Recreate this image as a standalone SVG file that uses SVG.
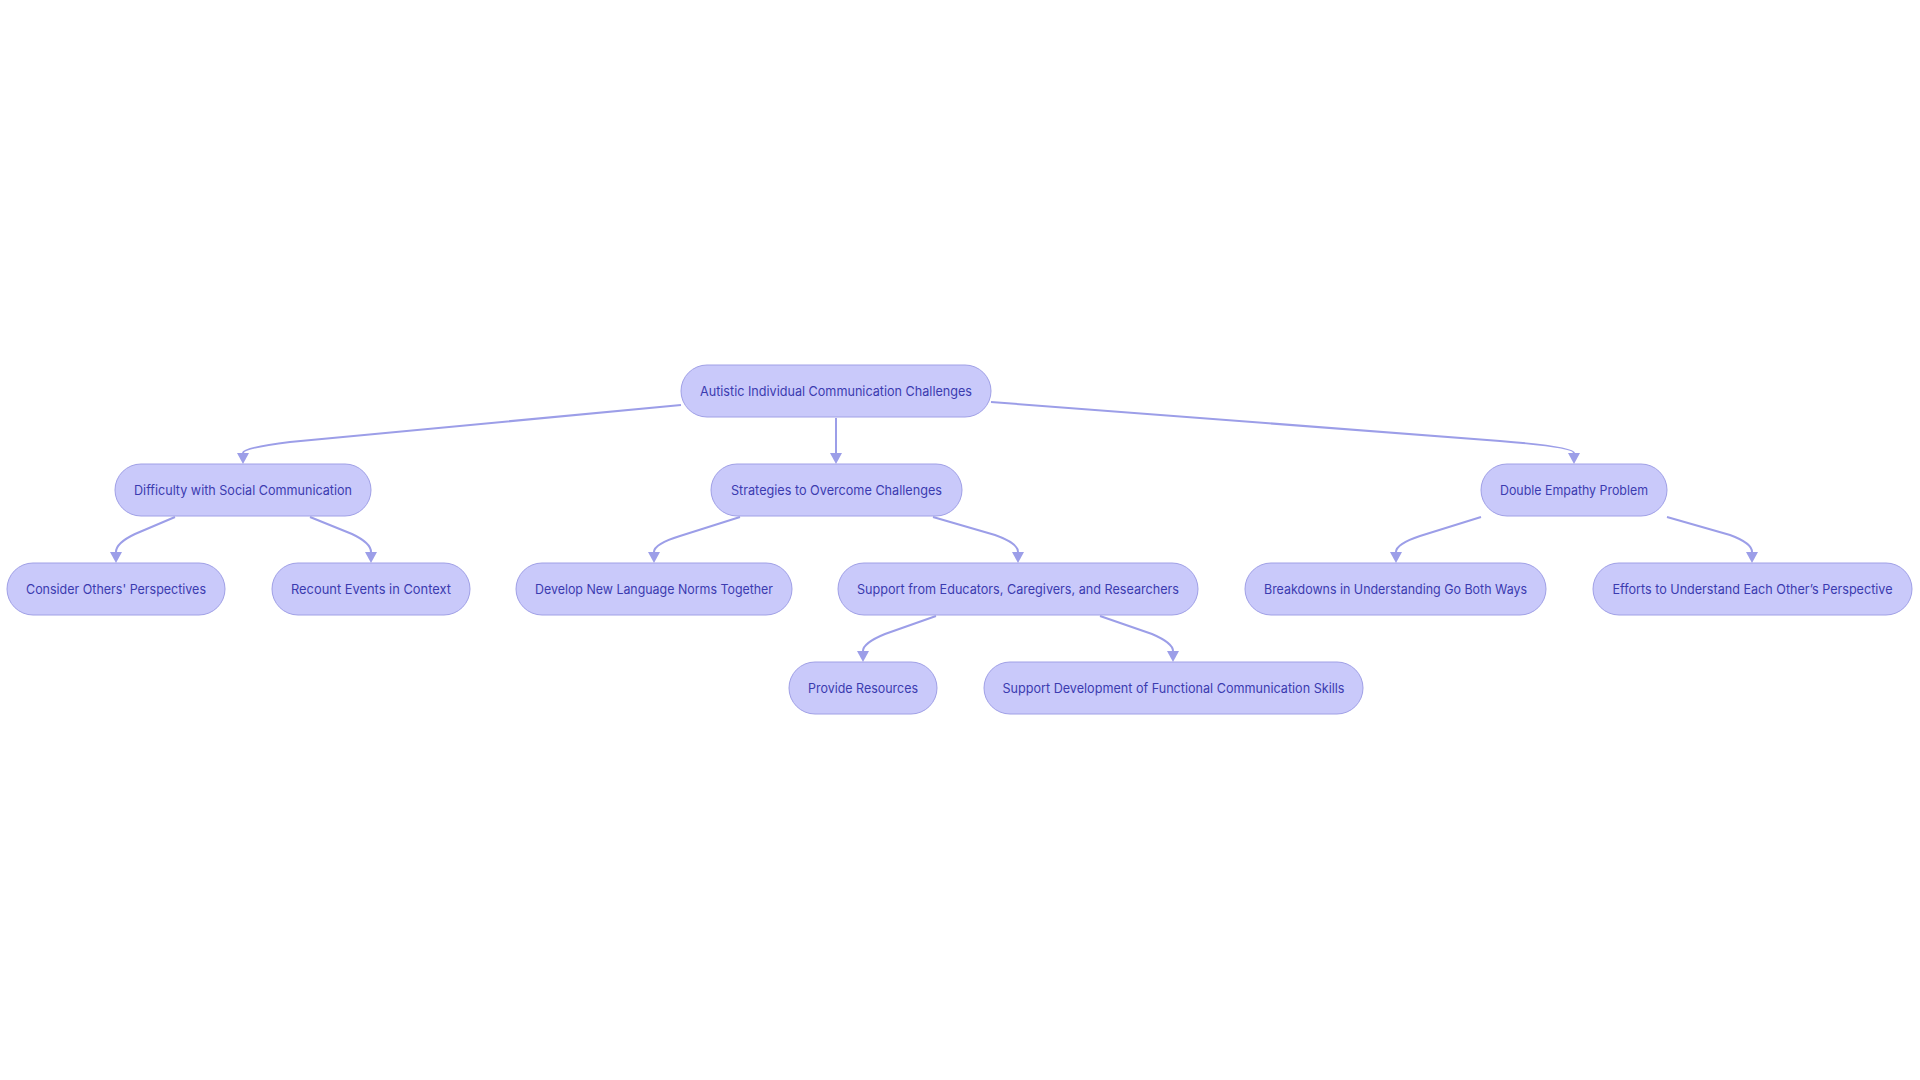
<svg xmlns="http://www.w3.org/2000/svg" width="1920" height="1080" viewBox="0 0 1920 1080">
<style>
.node rect{fill:#c9c9fa;stroke:#a0a0e6;stroke-width:1}
.node text{font-family:Inter,"Noto Sans","Liberation Sans",sans-serif;font-size:13px;fill:#3b3bb0;text-anchor:middle;dominant-baseline:central}
.edge{fill:none;stroke:#9c9ee8;stroke-width:2;marker-end:url(#arr)}
</style>
<defs>
<marker id="arr" markerUnits="userSpaceOnUse" markerWidth="11" markerHeight="12" viewBox="0 0 11 12" refX="0" refY="6" orient="auto">
<path d="M0,0 L11,6 L0,12 Z" fill="#9c9ee8"/>
</marker>
</defs>
<rect width="1920" height="1080" fill="#ffffff"/>
<g id="connectors">
<path class="edge" d="M681,405 L290,442 Q243,448 243,453"/>
<path class="edge" d="M836,418 L836,453"/>
<path class="edge" d="M991,402 L1500,441 Q1574,447 1574,453"/>
<path class="edge" d="M175,517 L135,534 Q116,543 116,552"/>
<path class="edge" d="M310,517 L352,534 Q371,543 371,552"/>
<path class="edge" d="M740,517 L680,536 Q654,544 654,552"/>
<path class="edge" d="M933,517 L995,535 Q1018,543 1018,552"/>
<path class="edge" d="M1481,517 L1420,536 Q1396,544 1396,552"/>
<path class="edge" d="M1667,517 L1730,535 Q1752,543 1752,552"/>
<path class="edge" d="M936,616 L885,634 Q863,643 863,651"/>
<path class="edge" d="M1100,616 L1152,634 Q1173,643 1173,651"/>
</g>
<g id="n_root" class="node"><rect x="681" y="365" width="310" height="52" rx="26"/><text x="836" y="391" textLength="272" lengthAdjust="spacingAndGlyphs">Autistic Individual Communication Challenges</text></g>
<g id="n_difficulty" class="node"><rect x="115" y="464" width="256" height="52" rx="26"/><text x="243" y="490" textLength="218" lengthAdjust="spacingAndGlyphs">Difficulty with Social Communication</text></g>
<g id="n_strategies" class="node"><rect x="711" y="464" width="251" height="52" rx="26"/><text x="836.5" y="490" textLength="211" lengthAdjust="spacingAndGlyphs">Strategies to Overcome Challenges</text></g>
<g id="n_double" class="node"><rect x="1481" y="464" width="186" height="52" rx="26"/><text x="1574" y="490" textLength="148" lengthAdjust="spacingAndGlyphs">Double Empathy Problem</text></g>
<g id="n_consider" class="node"><rect x="7" y="563" width="218" height="52" rx="26"/><text x="116" y="589" textLength="180" lengthAdjust="spacingAndGlyphs">Consider Others' Perspectives</text></g>
<g id="n_recount" class="node"><rect x="272" y="563" width="198" height="52" rx="26"/><text x="371" y="589" textLength="160" lengthAdjust="spacingAndGlyphs">Recount Events in Context</text></g>
<g id="n_develop" class="node"><rect x="516" y="563" width="276" height="52" rx="26"/><text x="654" y="589" textLength="238" lengthAdjust="spacingAndGlyphs">Develop New Language Norms Together</text></g>
<g id="n_support" class="node"><rect x="838" y="563" width="360" height="52" rx="26"/><text x="1018" y="589" textLength="322" lengthAdjust="spacingAndGlyphs">Support from Educators, Caregivers, and Researchers</text></g>
<g id="n_breakdowns" class="node"><rect x="1245" y="563" width="301" height="52" rx="26"/><text x="1395.5" y="589" textLength="263" lengthAdjust="spacingAndGlyphs">Breakdowns in Understanding Go Both Ways</text></g>
<g id="n_efforts" class="node"><rect x="1593" y="563" width="319" height="52" rx="26"/><text x="1752.5" y="589" textLength="280" lengthAdjust="spacingAndGlyphs">Efforts to Understand Each Other’s Perspective</text></g>
<g id="n_provide" class="node"><rect x="789" y="662" width="148" height="52" rx="26"/><text x="863" y="688" textLength="110" lengthAdjust="spacingAndGlyphs">Provide Resources</text></g>
<g id="n_supportdev" class="node"><rect x="984" y="662" width="379" height="52" rx="26"/><text x="1173.5" y="688" textLength="342" lengthAdjust="spacingAndGlyphs">Support Development of Functional Communication Skills</text></g>
</svg>
